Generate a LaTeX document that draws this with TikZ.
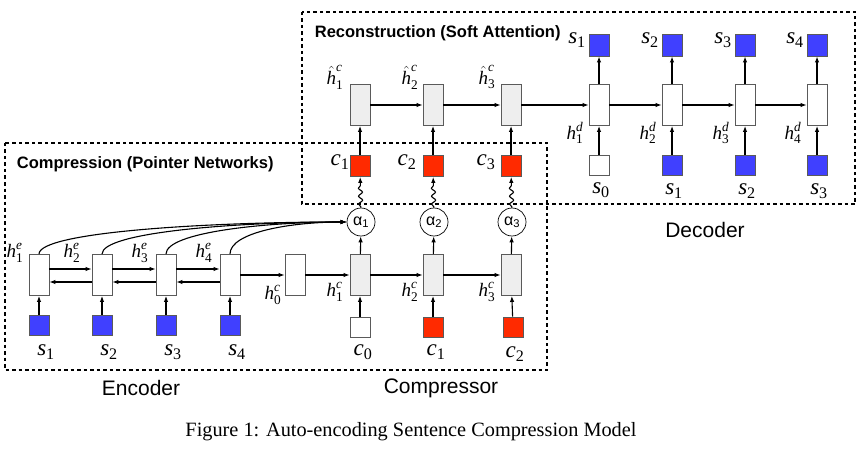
\RequirePackage{fix-cm}
\documentclass[tikz,border=0pt]{standalone}
\usepackage{amsmath}
\usepackage{fontspec}
\setmainfont{Liberation Serif}
\setsansfont{Liberation Sans}
\usepackage{xcolor}
\usepackage{tikz}
\definecolor{acBlue}{HTML}{4040FF}
\definecolor{acRed}{HTML}{FF2A00}
\definecolor{acFill}{HTML}{EEEEEE}
\definecolor{acEdge}{HTML}{5A5A5A}
\usetikzlibrary{arrows.meta,decorations.pathmorphing}

\newcommand{\tokvar}[2]{$\textit{#1}_{\text{#2}}$}
\newcommand{\hidvar}[3]{$\textit{#1}^{\textit{#2}}_{\text{#3}}$}
\newcommand{\hathid}[2]{$\hat{\textit{h}}^{\textit{#1}}_{\text{#2}}$}

\tikzset{
  cell/.style={draw=acEdge, line width=0.9pt, minimum width=20pt, minimum height=41pt, inner sep=0pt},
  tok/.style={draw=acEdge, line width=0.9pt, minimum width=20pt, minimum height=20pt, inner sep=0pt},
  attn/.style={circle, draw=black, line width=0.7pt, minimum size=28pt, inner sep=0pt, font=\sffamily\fontsize{16}{16}\selectfont},
  grouptitle/.style={anchor=west, font=\sffamily\bfseries\fontsize{16.5}{18}\selectfont},
  partname/.style={font=\sffamily\fontsize{21}{22}\selectfont},
  bigsym/.style={inner sep=0pt, font=\fontsize{23}{23}\selectfont},
  hsym/.style={inner sep=0pt, font=\fontsize{19}{19}\selectfont},
  groupbox/.style={line width=1.3pt, dash pattern=on 3.5pt off 3pt},
  squiggle/.style={decorate, decoration={snake, amplitude=2pt, segment length=8pt, pre length=1pt, post length=6pt}}
}

\begin{document}
\begin{tikzpicture}[x=1pt, y=-1pt, line width=1.1pt, >={Latex[length=6pt,width=4.5pt]}]
    \useasboundingbox (0,0) rectangle (861,449);

    \draw[groupbox] (5,143) rectangle (547,370);
    \draw[groupbox] (302,12) rectangle (855,204);
    \node[grouptitle] (tcomp) at (13,164) {Compression (Pointer Networks)};
    \node[grouptitle] (trec) at (311,33) {Reconstruction (Soft Attention)};

    \foreach \i/\x in {1/39,2/102,3/166,4/230} {
      \node[cell] (e\i) at (\x,275) {};
      \node[tok, fill=acBlue] (se\i) at (\x,325) {};
      \draw[->] (se\i) -- (e\i);
      \node[bigsym] (lse\i) at (\x+7,352) {\tokvar{s}{\i}};
    }
    \foreach \i/\j in {1/2,2/3,3/4} {
      \draw[->] ([yshift=6pt]e\i.east) -- ([yshift=6pt]e\j.west);
      \draw[->] ([yshift=-7pt]e\j.west) -- ([yshift=-7pt]e\i.east);
    }
    \node[hsym] (lhe1) at (15,253) {\hidvar{h}{e}{1}};
    \node[hsym] (lhe2) at (72,253) {\hidvar{h}{e}{2}};
    \node[hsym] (lhe3) at (140,253) {\hidvar{h}{e}{3}};
    \node[hsym] (lhe4) at (204,253) {\hidvar{h}{e}{4}};

    \node[cell] (h0) at (295,275) {};
    \node[hsym] (lh0) at (273,295) {\hidvar{h}{c}{0}};
    \draw[->] (e4) -- (h0);

    \foreach \i/\x in {1/360,2/433,3/511} {
      \node[cell, fill=acFill] (c\i) at (\x,275) {};
      \node[attn] (a\i) at (\x+1,222) {α\textsubscript{\i}};
      \node[tok, fill=acRed, minimum height=21pt] (cc\i) at (\x,166) {};
      \node[cell, fill=acFill] (r\i) at (\x,105) {};
      \draw[->] (c\i) -- (a\i);
      \draw[->, squiggle] (a\i) -- (cc\i);
      \draw[->] (cc\i) -- (r\i);
    }
    \foreach \i/\d in {1/140,2/110,3/80,4/55}
      \draw[->] (e\i.north) .. controls +(0,-22) and +(-\d,0) .. (a1.west);

    \node[tok, fill=white] (ci0) at (360,327) {};
    \node[tok, fill=acRed] (ci1) at (433,327) {};
    \node[tok, fill=acRed] (ci2) at (513,327) {};
    \draw[->] (ci0) -- (c1);
    \draw[->] (ci1) -- (c2);
    \draw[->] (ci2) -- (c3);
    \node[bigsym] (lci0) at (363,352) {\tokvar{c}{0}};
    \node[bigsym] (lci1) at (436,352) {\tokvar{c}{1}};
    \node[bigsym] (lci2) at (515,354) {\tokvar{c}{2}};

    \draw[->] (h0) -- (c1);
    \draw[->] (c1) -- (c2);
    \draw[->] (c2) -- (c3);
    \node[hsym] (lhc1) at (335,292) {\hidvar{h}{c}{1}};
    \node[hsym] (lhc2) at (410,292) {\hidvar{h}{c}{2}};
    \node[hsym] (lhc3) at (487,292) {\hidvar{h}{c}{3}};

    \node[bigsym] (lcc1) at (340,162) {\tokvar{c}{1}};
    \node[bigsym] (lcc2) at (407,162) {\tokvar{c}{2}};
    \node[bigsym] (lcc3) at (486,162) {\tokvar{c}{3}};

    \draw[->] (r1) -- (r2);
    \draw[->] (r2) -- (r3);
    \node[hsym] (lr1) at (335,77) {\hathid{c}{1}};
    \node[hsym] (lr2) at (410,77) {\hathid{c}{2}};
    \node[hsym] (lr3) at (487,77) {\hathid{c}{3}};

    \foreach \i/\x in {1/599,2/672,3/745,4/817} {
      \node[cell] (d\i) at (\x,105) {};
      \node[tok, fill=acBlue, minimum height=22pt] (so\i) at (\x,45) {};
      \node[tok, fill=acBlue] (si\i) at (\x,165) {};
      \draw[->] (d\i) -- (so\i);
      \draw[->] (si\i) -- (d\i);
      \node[bigsym] (lso\i) at (\x-22,40) {\tokvar{s}{\i}};
      \node[hsym] (lhd\i) at (\x-24,133) {\hidvar{h}{d}{\i}};
    }
    \node[tok, fill=white] at (si1) {};
    \node[bigsym] (lsi1) at (601,190) {\tokvar{s}{0}};
    \node[bigsym] (lsi2) at (674,191) {\tokvar{s}{1}};
    \node[bigsym] (lsi3) at (747,191) {\tokvar{s}{2}};
    \node[bigsym] (lsi4) at (819,191) {\tokvar{s}{3}};
    \draw[->] (r3) -- (d1);
    \draw[->] (d1) -- (d2);
    \draw[->] (d2) -- (d3);
    \draw[->] (d3) -- (d4);

    \node[partname] (nenc) at (141,388) {Encoder};
    \node[partname] (ncmp) at (441,388) {Compressor};
    \node[partname] (ndec) at (705,230) {Decoder};
    \node[font=\rmfamily\fontsize{20.3}{21}\selectfont] (cap) at (411,432) {Figure 1: Auto-encoding Sentence Compression Model};
  \end{tikzpicture}
\end{document}
